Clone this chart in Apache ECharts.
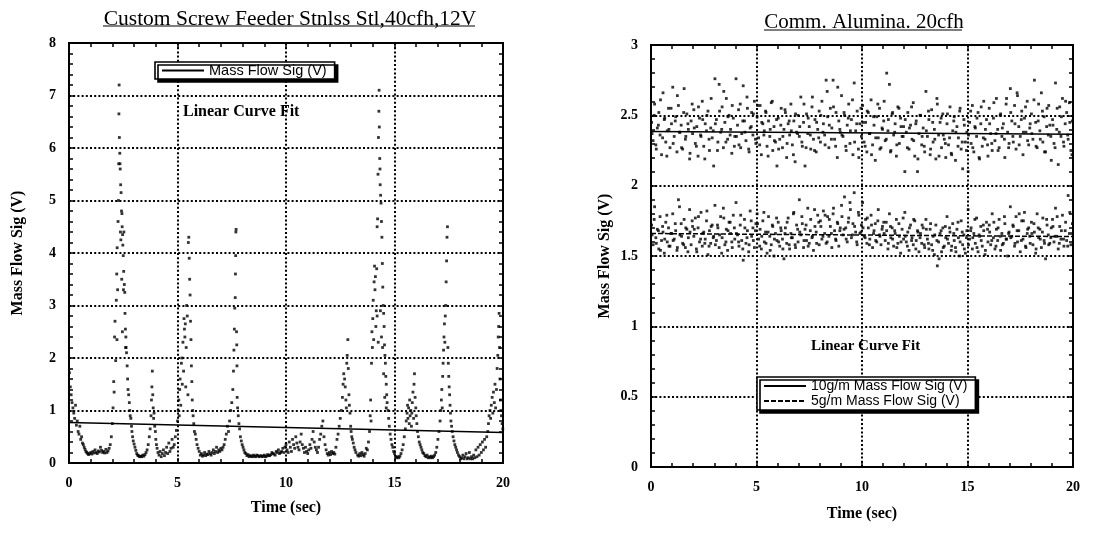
<!DOCTYPE html>
<html>
<head>
<meta charset="utf-8">
<script src="https://cdn.jsdelivr.net/npm/echarts@6/dist/echarts.min.js"></script>
<style>html,body{margin:0;padding:0;background:#fff}#c{width:1095px;height:543px}</style>
</head>
<body>
<div id="c"></div>
<script>
// ---------- DATA ----------
const leftTitle = 'Custom Screw Feeder Stnlss Stl,40cfh,12V';
const rightTitle = 'Comm. Alumina. 20cfh';
const xTicksLabel = [0, 5, 10, 15, 20];

// Left panel: [time (s), Mass Flow Sig (V)]
const leftSamples = [
[0.02,1.72],[0.06,1.45],[0.1,1.3],[0.14,1.15],[0.18,1.05],[0.22,0.95],[0.26,0.85],[0.3,1.1],[0.34,0.72],[0.38,0.8],[0.42,0.6],[0.46,0.55],[0.5,0.7],[0.54,0.45],[0.58,0.5],[0.62,0.38],[0.66,0.35],[0.7,0.3],[0.74,0.26],[0.78,0.22],[0.82,0.2],[0.86,0.18],[0.9,0.16],
[0.95,0.18],[1.0,0.2],[1.05,0.17],[1.1,0.22],[1.15,0.19],[1.2,0.25],[1.25,0.2],[1.3,0.18],[1.35,0.23],[1.4,0.21],[1.45,0.3],[1.5,0.24],[1.55,0.2],[1.6,0.22],[1.65,0.19],[1.7,0.26],[1.75,0.2],[1.8,0.23],[1.85,0.28],[1.9,0.35],[1.95,0.5],
[2.0,0.75],[2.03,1.05],[2.06,1.55],[2.08,1.35],[2.1,2.4],[2.12,2.7],[2.15,1.95],[2.18,3.1],[2.2,3.6],[2.21,2.35],[2.22,4.1],[2.24,3.3],[2.26,4.6],[2.28,5.0],[2.29,5.7],[2.3,6.65],[2.31,7.2],[2.32,6.2],[2.34,5.9],[2.35,5.7],[2.36,5.6],[2.37,4.4],[2.38,5.3],[2.39,4.25],[2.4,5.15],[2.42,4.8],[2.43,3.5],[2.44,4.75],[2.45,4.5],[2.46,2.5],[2.47,4.35],[2.48,4.15],[2.5,3.95],[2.51,3.3],[2.52,3.65],[2.53,4.4],[2.55,3.4],[2.57,3.25],[2.58,2.85],[2.6,2.55],[2.61,2.2],[2.62,2.4],[2.63,2.2],[2.65,2.1],[2.68,1.85],[2.7,1.6],[2.72,1.4],[2.75,1.3],[2.78,1.15],[2.8,1.0],[2.82,0.9],[2.85,0.85],[2.88,0.7],[2.9,0.6],[2.93,0.5],[2.96,0.42],[3.0,0.36],[3.04,0.3],[3.08,0.24],[3.12,0.18],[3.16,0.15],
[3.2,0.14],[3.25,0.12],[3.3,0.13],[3.35,0.12],[3.4,0.15],[3.45,0.13],[3.5,0.16],[3.55,0.2],[3.6,0.25],[3.65,0.35],[3.7,0.5],
[3.74,0.65],[3.78,0.9],[3.8,1.2],[3.82,1.45],[3.84,1.75],[3.86,1.3],[3.88,1.05],[3.9,0.85],[3.92,0.95],[3.95,0.7],[3.98,0.6],[4.0,0.45],[4.03,0.35],[4.06,0.28],[4.1,0.2],
[4.15,0.15],[4.2,0.22],[4.25,0.12],[4.3,0.18],[4.35,0.25],[4.4,0.14],[4.45,0.2],[4.5,0.3],[4.55,0.18],[4.6,0.38],[4.65,0.22],[4.7,0.28],[4.75,0.45],[4.8,0.3],[4.85,0.35],[4.9,0.5],[4.95,0.62],
[5.0,0.8],[5.03,1.0],[5.06,1.2],[5.08,0.9],[5.1,1.4],[5.12,1.6],[5.15,1.1],[5.18,1.9],[5.2,2.0],[5.22,1.5],[5.25,2.3],[5.28,1.75],[5.3,2.75],[5.32,2.55],[5.34,2.4],[5.36,2.65],[5.38,1.45],[5.4,2.2],[5.42,3.0],[5.45,2.8],[5.48,1.3],[5.5,4.2],[5.52,4.3],[5.54,3.9],[5.56,3.5],[5.58,3.2],[5.6,2.7],[5.62,2.35],[5.64,1.85],[5.66,1.55],[5.68,1.2],[5.7,1.0],[5.72,0.9],[5.75,0.75],[5.78,0.6],[5.82,0.55],[5.86,0.45],[5.9,0.35],[5.95,0.28],[6.0,0.22],
[6.05,0.15],[6.1,0.18],[6.15,0.13],[6.2,0.15],[6.25,0.2],[6.3,0.14],[6.35,0.17],[6.4,0.16],[6.45,0.22],[6.5,0.18],[6.55,0.15],[6.6,0.2],[6.65,0.25],[6.7,0.18],[6.75,0.22],[6.8,0.3],[6.85,0.2],[6.9,0.25],[6.95,0.22],[7.0,0.28],[7.05,0.25],[7.1,0.3],[7.15,0.35],[7.2,0.45],[7.25,0.55],[7.3,0.7],[7.35,0.6],
[7.4,0.8],[7.45,1.0],[7.5,1.15],[7.55,1.4],[7.58,1.75],[7.6,2.15],[7.62,2.55],[7.64,2.95],[7.66,3.15],[7.67,3.6],[7.68,3.95],[7.69,4.4],[7.7,4.45],[7.72,2.5],[7.73,2.25],[7.74,1.85],[7.75,1.25],[7.77,1.05],[7.8,0.9],[7.83,0.75],[7.86,0.65],[7.9,0.5],[7.94,0.42],[7.98,0.35],[8.02,0.3],[8.06,0.25],[8.1,0.2],[8.15,0.18],
[8.2,0.14],[8.25,0.16],[8.3,0.12],[8.35,0.14],[8.4,0.13],[8.45,0.12],[8.5,0.15],[8.55,0.13],[8.6,0.12],[8.65,0.15],[8.7,0.14],[8.75,0.12],[8.8,0.13],[8.85,0.14],[8.9,0.12],[8.95,0.13],[9.0,0.15],[9.05,0.12],[9.1,0.13],[9.15,0.16],[9.2,0.14],[9.25,0.14],[9.3,0.16],[9.35,0.2],[9.4,0.18],[9.45,0.17],[9.5,0.15],[9.55,0.22],[9.6,0.2],[9.65,0.25],[9.7,0.18],[9.75,0.2],[9.8,0.22],[9.85,0.28],[9.9,0.2],[9.95,0.3],
[10.0,0.35],[10.05,0.25],[10.1,0.2],[10.15,0.4],[10.2,0.3],[10.25,0.22],[10.3,0.45],[10.35,0.35],[10.4,0.28],[10.45,0.5],[10.5,0.38],[10.55,0.3],[10.6,0.25],[10.65,0.4],[10.7,0.55],[10.75,0.35],[10.8,0.28],[10.85,0.2],[10.9,0.3],[10.95,0.22],[11.0,0.18],[11.05,0.25],[11.1,0.35],[11.15,0.28],[11.2,0.45],[11.25,0.6],[11.3,0.4],[11.35,0.3],[11.4,0.25],[11.45,0.2],[11.5,0.3],[11.55,0.45],[11.6,0.55],[11.65,0.7],[11.7,0.8],[11.75,0.5],[11.8,0.35],[11.85,0.25],[11.9,0.18],[11.95,0.15],[12.0,0.2],[12.05,0.16],[12.1,0.22],[12.15,0.18],[12.2,0.2],[12.25,0.17],[12.3,0.3],[12.35,0.45],[12.4,0.55],[12.45,0.7],
[12.5,0.85],[12.55,1.0],[12.6,1.25],[12.63,1.5],[12.66,1.7],[12.7,1.6],[12.73,1.45],[12.76,1.2],[12.78,1.05],[12.8,1.9],[12.82,2.05],[12.85,2.35],[12.87,1.8],[12.9,1.3],[12.92,1.1],[12.95,0.95],[12.98,0.7],[13.0,0.6],[13.03,0.5],[13.06,0.45],[13.1,0.38],[13.14,0.3],[13.18,0.25],[13.22,0.2],
[13.3,0.15],[13.35,0.13],[13.4,0.18],[13.45,0.14],[13.5,0.2],[13.55,0.16],[13.6,0.13],[13.65,0.18],[13.7,0.28],[13.75,0.25],[13.8,0.4],
[13.85,0.6],[13.88,0.9],[13.9,1.2],[13.92,0.8],[13.94,1.9],[13.96,2.5],[13.98,2.2],[14.0,2.75],[14.02,3.1],[14.04,2.35],[14.06,3.45],[14.08,3.75],[14.1,3.3],[14.12,3.55],[14.14,2.6],[14.16,2.9],[14.18,3.7],[14.2,4.5],[14.2,2.8],[14.22,4.65],[14.24,5.5],[14.25,2.3],[14.26,6.2],[14.28,6.7],[14.29,7.1],[14.3,6.4],[14.32,5.8],[14.33,5.6],[14.34,5.3],[14.35,2.9],[14.36,5.1],[14.38,4.95],[14.4,4.6],[14.4,2.4],[14.42,4.3],[14.44,3.8],[14.45,2.2],[14.46,3.35],[14.48,3.0],[14.5,2.85],[14.5,1.7],[14.52,2.6],[14.54,2.25],[14.55,1.25],[14.56,2.05],[14.58,1.9],[14.6,1.65],[14.62,1.5],[14.62,1.05],[14.64,1.3],[14.66,1.15],[14.7,1.0],[14.73,0.85],[14.76,0.7],[14.8,0.55],[14.84,0.45],[14.88,0.35],[14.92,0.3],[14.96,0.22],
[15.0,0.18],[15.05,0.12],[15.1,0.1],[15.15,0.12],[15.2,0.1],[15.25,0.13],[15.3,0.18],[15.35,0.25],[15.4,0.35],[15.45,0.5],
[15.5,0.65],[15.54,0.8],[15.58,0.95],[15.6,1.1],[15.62,0.85],[15.65,1.05],[15.68,0.75],[15.7,1.2],[15.72,0.9],[15.75,1.0],[15.78,0.7],[15.8,0.95],[15.82,1.15],[15.85,1.35],[15.88,0.85],[15.9,1.5],[15.92,1.7],[15.95,1.25],[15.98,1.05],[16.0,0.9],[16.03,0.75],[16.06,0.6],[16.1,0.5],[16.14,0.4],[16.18,0.35],[16.22,0.3],[16.26,0.25],[16.3,0.2],
[16.35,0.18],[16.4,0.14],[16.45,0.12],[16.5,0.15],[16.55,0.1],[16.6,0.12],[16.65,0.1],[16.7,0.13],[16.75,0.1],[16.8,0.12],[16.85,0.15],[16.9,0.2],[16.95,0.3],[17.0,0.45],[17.05,0.6],
[17.1,0.8],[17.13,1.0],[17.16,1.2],[17.18,1.4],[17.2,1.05],[17.22,1.65],[17.24,1.9],[17.26,2.15],[17.28,2.4],[17.3,2.65],[17.32,2.3],[17.34,2.8],[17.36,3.0],[17.38,3.45],[17.4,3.85],[17.42,4.3],[17.44,4.5],[17.46,2.2],[17.48,1.9],[17.5,1.65],[17.52,1.45],[17.54,1.3],[17.56,1.1],[17.58,0.95],[17.6,0.8],[17.63,0.7],[17.66,0.6],[17.7,0.5],[17.74,0.42],[17.78,0.35],
[17.82,0.3],[17.86,0.25],[17.9,0.2],[17.95,0.15],[18.0,0.12],[18.05,0.08],[18.1,0.1],[18.15,0.15],[18.2,0.08],[18.25,0.12],[18.3,0.18],[18.35,0.08],[18.4,0.1],[18.45,0.2],[18.5,0.08],[18.55,0.12],[18.6,0.08],[18.65,0.15],[18.7,0.1],[18.75,0.25],[18.8,0.12],[18.85,0.3],[18.9,0.15],[18.95,0.35],[19.0,0.2],[19.05,0.4],[19.1,0.25],[19.15,0.45],[19.2,0.3],[19.25,0.5],
[19.3,0.6],[19.33,0.75],[19.36,0.9],[19.4,1.0],[19.43,0.85],[19.46,1.1],[19.5,1.25],[19.53,0.95],[19.56,1.35],[19.6,1.15],[19.63,1.5],[19.66,1.05],[19.7,1.4],[19.73,1.8],[19.76,2.05],[19.78,2.4],[19.8,2.6],[19.82,2.85],[19.84,2.2],[19.86,1.6],[19.88,1.2],[19.9,1.0],[19.93,0.9],[19.96,0.75],[19.99,0.65]
];
const leftFitTime = [0, 20];
const leftFitSig = [0.77, 0.58];

// Right panel: sample times (s), set A
const rightTime = [
0.03,0.10,0.17,0.23,0.30,0.37,0.43,0.50,0.57,0.63,0.70,0.77,0.83,0.90,0.97,
1.03,1.10,1.17,1.23,1.30,1.37,1.43,1.50,1.57,1.63,1.70,1.77,1.83,1.90,1.97,
2.03,2.10,2.17,2.23,2.30,2.37,2.43,2.50,2.57,2.63,2.70,2.77,2.83,2.90,2.97,
3.03,3.10,3.17,3.23,3.30,3.37,3.43,3.50,3.57,3.63,3.70,3.77,3.83,3.90,3.97,
4.03,4.10,4.17,4.23,4.30,4.37,4.43,4.50,4.57,4.63,4.70,4.77,4.83,4.90,4.97,
5.03,5.10,5.17,5.23,5.30,5.37,5.43,5.50,5.57,5.63,5.70,5.77,5.83,5.90,5.97,
6.03,6.10,6.17,6.23,6.30,6.37,6.43,6.50,6.57,6.63,6.70,6.77,6.83,6.90,6.97,
7.03,7.10,7.17,7.23,7.30,7.37,7.43,7.50,7.57,7.63,7.70,7.77,7.83,7.90,7.97,
8.03,8.10,8.17,8.23,8.30,8.37,8.43,8.50,8.57,8.63,8.70,8.77,8.83,8.90,8.97,
9.03,9.10,9.17,9.23,9.30,9.37,9.43,9.50,9.57,9.63,9.70,9.77,9.83,9.90,9.97,
10.03,10.10,10.17,10.23,10.30,10.37,10.43,10.50,10.57,10.63,10.70,10.77,10.83,10.90,10.97,
11.03,11.10,11.17,11.23,11.30,11.37,11.43,11.50,11.57,11.63,11.70,11.77,11.83,11.90,11.97,
12.03,12.10,12.17,12.23,12.30,12.37,12.43,12.50,12.57,12.63,12.70,12.77,12.83,12.90,12.97,
13.03,13.10,13.17,13.23,13.30,13.37,13.43,13.50,13.57,13.63,13.70,13.77,13.83,13.90,13.97,
14.03,14.10,14.17,14.23,14.30,14.37,14.43,14.50,14.57,14.63,14.70,14.77,14.83,14.90,14.97,
15.03,15.10,15.17,15.23,15.30,15.37,15.43,15.50,15.57,15.63,15.70,15.77,15.83,15.90,15.97,
16.03,16.10,16.17,16.23,16.30,16.37,16.43,16.50,16.57,16.63,16.70,16.77,16.83,16.90,16.97,
17.03,17.10,17.17,17.23,17.30,17.37,17.43,17.50,17.57,17.63,17.70,17.77,17.83,17.90,17.97,
18.03,18.10,18.17,18.23,18.30,18.37,18.43,18.50,18.57,18.63,18.70,18.77,18.83,18.90,18.97,
19.03,19.10,19.17,19.23,19.30,19.37,19.43,19.50,19.57,19.63,19.70,19.77,19.83,19.90,19.97
];
// 10g/m Mass Flow Sig (V), set A
const sig10 = [
2.45,2.32,2.58,2.29,2.41,2.52,2.36,2.22,2.66,2.47,2.31,2.39,2.55,2.27,2.44,
2.70,2.35,2.49,2.24,2.57,2.38,2.43,2.26,2.69,2.33,2.51,2.40,2.19,2.46,2.37,
2.54,2.30,2.42,2.21,2.48,2.35,2.60,2.28,2.44,2.39,2.53,2.25,2.41,2.34,2.14,
2.76,2.47,2.31,2.72,2.38,2.56,2.27,2.45,2.62,2.33,2.50,2.40,2.23,2.48,2.35,
2.76,2.43,2.29,2.58,2.37,2.71,2.46,2.32,2.55,2.26,2.41,2.52,2.36,2.60,2.30,
2.49,2.34,2.57,2.22,2.44,2.39,2.53,2.28,2.46,2.35,2.59,2.25,2.42,2.31,2.14,
2.48,2.33,2.55,2.27,2.40,2.52,2.20,2.44,2.36,2.58,2.29,2.46,2.17,2.38,2.50,
2.35,2.63,2.28,2.45,2.14,2.51,2.37,2.42,2.26,2.56,2.33,2.47,2.24,2.40,2.53,
2.31,2.60,2.44,2.36,2.75,2.49,2.27,2.55,2.41,2.75,2.33,2.52,2.20,2.46,2.38,
2.64,2.35,2.50,2.28,2.43,2.58,2.30,2.47,2.22,2.73,2.39,2.53,2.26,2.44,2.35,
2.57,2.31,2.45,2.24,2.52,2.37,2.61,2.29,2.43,2.18,2.49,2.34,2.55,2.27,2.40,
2.46,2.32,2.80,2.39,2.72,2.25,2.51,2.36,2.44,2.21,2.56,2.30,2.48,2.35,2.42,
2.10,2.38,2.52,2.26,2.43,2.33,2.59,2.21,2.46,2.10,2.37,2.50,2.29,2.41,2.24,
2.67,2.35,2.47,2.22,2.54,2.31,2.40,2.19,2.58,2.36,2.45,2.27,2.51,2.33,2.20,
2.44,2.29,2.56,2.23,2.39,2.49,2.18,2.42,2.34,2.53,2.26,2.12,2.47,2.31,2.38,
2.10,2.45,2.30,2.57,2.24,2.41,2.35,2.52,2.19,2.44,2.28,2.60,2.33,2.47,2.21,
2.55,2.37,2.25,2.48,2.32,2.62,2.40,2.27,2.51,2.35,2.44,2.20,2.58,2.38,2.30,
2.69,2.46,2.31,2.57,2.26,2.64,2.42,2.35,2.53,2.22,2.48,2.38,2.60,2.29,2.44,
2.51,2.33,2.75,2.45,2.27,2.58,2.39,2.66,2.31,2.49,2.24,2.55,2.36,2.43,2.18,
2.47,2.30,2.73,2.40,2.15,2.56,2.35,2.62,2.28,2.44,2.52,2.33,2.59,2.25,2.46
];
// 5g/m Mass Flow Sig (V), set A
const sig5 = [
1.72,1.58,1.85,1.63,1.69,1.55,1.78,1.61,1.67,1.52,1.74,1.60,1.70,1.57,1.66,
1.80,1.62,1.68,1.54,1.90,1.65,1.73,1.59,1.76,1.56,1.69,1.63,1.83,1.58,1.71,
1.64,1.77,1.53,1.70,1.60,1.81,1.57,1.67,1.62,1.75,1.51,1.68,1.59,1.72,1.64,
1.86,1.61,1.70,1.56,1.78,1.63,1.84,1.58,1.69,1.54,1.74,1.66,1.60,1.79,1.62,
1.88,1.65,1.57,1.72,1.61,1.47,1.76,1.59,1.68,1.53,1.82,1.64,1.70,1.56,1.73,
1.80,1.62,1.69,1.55,1.75,1.60,1.67,1.52,1.78,1.64,1.58,1.71,1.50,1.66,1.61,
1.74,1.57,1.68,1.62,1.48,1.70,1.59,1.77,1.55,1.66,1.63,1.81,1.58,1.72,1.60,
1.90,1.65,1.73,1.56,1.69,1.61,1.84,1.59,1.76,1.63,1.54,1.71,1.67,1.79,1.58,
1.75,1.62,1.82,1.66,1.59,1.78,1.64,1.71,1.56,1.80,1.68,1.61,1.74,1.57,1.70,
1.86,1.65,1.92,1.70,1.60,1.77,1.88,1.63,1.73,1.95,1.67,1.58,1.81,1.66,1.72,
1.88,1.64,1.76,1.59,1.70,1.62,1.79,1.56,1.68,1.73,1.60,1.83,1.65,1.58,1.71,
1.74,1.61,1.68,1.55,1.80,1.63,1.70,1.57,1.66,1.76,1.59,1.64,1.52,1.69,1.62,
1.81,1.60,1.67,1.54,1.72,1.63,1.58,1.75,1.61,1.68,1.53,1.66,1.59,1.70,1.56,
1.76,1.62,1.55,1.69,1.58,1.64,1.51,1.72,1.43,1.60,1.66,1.53,1.70,1.57,1.63,
1.78,1.59,1.67,1.54,1.73,1.61,1.56,1.69,1.63,1.50,1.75,1.58,1.65,1.52,1.68,
1.83,1.62,1.70,1.55,1.66,1.59,1.77,1.53,1.64,1.71,1.57,1.68,1.51,1.74,1.60,
1.72,1.58,1.80,1.63,1.55,1.69,1.61,1.76,1.54,1.66,1.59,1.73,1.62,1.50,1.67,
1.85,1.64,1.71,1.57,1.78,1.60,1.68,1.53,1.75,1.62,1.81,1.56,1.66,1.70,1.59,
1.74,1.58,1.67,1.52,1.80,1.63,1.69,1.56,1.77,1.61,1.48,1.72,1.65,1.59,1.70,
1.76,1.60,1.84,1.64,1.55,1.71,1.62,1.79,1.57,1.68,1.61,1.93,1.66,1.58,1.73
];
// Right panel: sample times (s), set B
const rightTimeB = [
0.05,0.15,0.25,0.35,0.45,0.55,0.65,0.75,0.85,0.95,
1.05,1.15,1.25,1.35,1.45,1.55,1.65,1.75,1.85,1.95,
2.05,2.15,2.25,2.35,2.45,2.55,2.65,2.75,2.85,2.95,
3.05,3.15,3.25,3.35,3.45,3.55,3.65,3.75,3.85,3.95,
4.05,4.15,4.25,4.35,4.45,4.55,4.65,4.75,4.85,4.95,
5.05,5.15,5.25,5.35,5.45,5.55,5.65,5.75,5.85,5.95,
6.05,6.15,6.25,6.35,6.45,6.55,6.65,6.75,6.85,6.95,
7.05,7.15,7.25,7.35,7.45,7.55,7.65,7.75,7.85,7.95,
8.05,8.15,8.25,8.35,8.45,8.55,8.65,8.75,8.85,8.95,
9.05,9.15,9.25,9.35,9.45,9.55,9.65,9.75,9.85,9.95,
10.05,10.15,10.25,10.35,10.45,10.55,10.65,10.75,10.85,10.95,
11.05,11.15,11.25,11.35,11.45,11.55,11.65,11.75,11.85,11.95,
12.05,12.15,12.25,12.35,12.45,12.55,12.65,12.75,12.85,12.95,
13.05,13.15,13.25,13.35,13.45,13.55,13.65,13.75,13.85,13.95,
14.05,14.15,14.25,14.35,14.45,14.55,14.65,14.75,14.85,14.95,
15.05,15.15,15.25,15.35,15.45,15.55,15.65,15.75,15.85,15.95,
16.05,16.15,16.25,16.35,16.45,16.55,16.65,16.75,16.85,16.95,
17.05,17.15,17.25,17.35,17.45,17.55,17.65,17.75,17.85,17.95,
18.05,18.15,18.25,18.35,18.45,18.55,18.65,18.75,18.85,18.95,
19.05,19.15,19.25,19.35,19.45,19.55,19.65,19.75,19.85,19.95
];
// 10g/m Mass Flow Sig (V), set B
const sig10B = [
2.37,2.50,2.26,2.43,2.61,2.34,2.48,2.21,2.40,2.55,
2.30,2.46,2.64,2.38,2.27,2.52,2.35,2.44,2.23,2.58,
2.41,2.28,2.56,2.36,2.47,2.19,2.50,2.33,2.62,2.39,
2.44,2.25,2.53,2.40,2.67,2.31,2.49,2.36,2.57,2.28,
2.35,2.54,2.27,2.46,2.38,2.63,2.24,2.42,2.51,2.33,
2.57,2.29,2.45,2.36,2.52,2.21,2.40,2.60,2.32,2.47,
2.26,2.43,2.35,2.54,2.30,2.46,2.39,2.22,2.51,2.37,
2.42,2.31,2.58,2.27,2.48,2.36,2.63,2.25,2.45,2.34,
2.50,2.38,2.29,2.67,2.43,2.33,2.56,2.28,2.70,2.40,
2.36,2.52,2.25,2.48,2.39,2.61,2.31,2.44,2.20,2.55,
2.45,2.28,2.53,2.37,2.22,2.49,2.34,2.58,2.26,2.41,
2.60,2.33,2.47,2.24,2.52,2.38,2.29,2.55,2.42,2.35,
2.47,2.27,2.41,2.56,2.32,2.44,2.19,2.50,2.35,2.28,
2.39,2.53,2.26,2.45,2.33,2.62,2.21,2.48,2.36,2.30,
2.51,2.34,2.22,2.46,2.38,2.28,2.55,2.31,2.43,2.25,
2.36,2.53,2.27,2.42,2.48,2.20,2.56,2.34,2.40,2.29,
2.44,2.30,2.59,2.37,2.25,2.50,2.41,2.33,2.62,2.27,
2.52,2.35,2.44,2.66,2.29,2.47,2.38,2.56,2.32,2.41,
2.37,2.61,2.28,2.46,2.33,2.53,2.24,2.42,2.57,2.35,
2.43,2.27,2.55,2.38,2.49,2.31,2.60,2.36,2.45,2.22
];
// 5g/m Mass Flow Sig (V), set B
const sig5B = [
1.65,1.76,1.59,1.68,1.54,1.71,1.62,1.79,1.57,1.66,
1.61,1.73,1.56,1.85,1.64,1.58,1.70,1.53,1.67,1.75,
1.69,1.55,1.78,1.62,1.66,1.59,1.82,1.57,1.71,1.63,
1.58,1.72,1.65,1.52,1.77,1.60,1.68,1.74,1.56,1.70,
1.66,1.60,1.79,1.55,1.70,1.63,1.58,1.75,1.61,1.68,
1.73,1.57,1.64,1.81,1.59,1.67,1.54,1.72,1.62,1.77,
1.60,1.70,1.55,1.66,1.74,1.58,1.63,1.80,1.56,1.69,
1.67,1.78,1.61,1.72,1.57,1.68,1.64,1.83,1.59,1.74,
1.71,1.64,1.79,1.60,1.76,1.66,1.84,1.62,1.73,1.68,
1.78,1.69,1.62,1.74,1.83,1.65,1.71,1.60,1.79,1.67,
1.70,1.63,1.77,1.58,1.72,1.66,1.61,1.75,1.64,1.69,
1.66,1.74,1.59,1.71,1.62,1.68,1.56,1.73,1.60,1.77,
1.64,1.57,1.70,1.61,1.76,1.55,1.67,1.63,1.72,1.58,
1.69,1.59,1.73,1.54,1.65,1.61,1.48,1.68,1.56,1.71,
1.62,1.70,1.57,1.66,1.53,1.74,1.60,1.67,1.55,1.63,
1.58,1.68,1.63,1.76,1.56,1.65,1.61,1.72,1.54,1.69,
1.67,1.61,1.74,1.57,1.70,1.64,1.58,1.78,1.62,1.66,
1.63,1.72,1.59,1.68,1.80,1.61,1.75,1.57,1.69,1.64,
1.66,1.73,1.55,1.70,1.62,1.67,1.59,1.76,1.58,1.63,
1.71,1.64,1.78,1.59,1.68,1.62,1.74,1.57,1.81,1.66
];
const rightFitTime = [0, 20];
const fit10 = [2.385, 2.366];
const fit5 = [1.66, 1.638];

// ---------- CHART ----------
const SERIF = '"Liberation Serif", "DejaVu Serif", serif';
const SANS = '"Liberation Sans", Arial, sans-serif';
const chart = echarts.init(document.getElementById('c'), null, {renderer: 'canvas'});

const grids = [
  {left: 69, top: 43, width: 434, height: 420},
  {left: 651, top: 45, width: 422, height: 422}
];
const splitDotted = {show: true, lineStyle: {color: '#000', width: 2, type: [2, 2.2]}};
const tickStyle = {show: true, inside: true, length: 5, lineStyle: {color: '#000', width: 1.5}};
const minorStyle = {show: true, splitNumber: 5, length: 4, lineStyle: {color: '#000', width: 1.5}};
const axisNameStyle = {fontFamily: SERIF, fontWeight: 'bold', fontSize: 16, color: '#000'};
const tickLabelStyle = {fontFamily: SERIF, fontWeight: 'bold', fontSize: 14, color: '#000'};

function mainX(gi, gap) {
  return {
    type: 'value', gridIndex: gi, min: 0, max: 20, interval: 5, position: 'bottom',
    name: 'Time (sec)', nameLocation: 'middle', nameGap: gap, nameTextStyle: axisNameStyle,
    axisLine: {show: true, onZero: false, lineStyle: {color: '#000', width: 2}},
    axisTick: tickStyle, minorTick: minorStyle,
    axisLabel: Object.assign({margin: 13, formatter: v => xTicksLabel.includes(v) ? String(v) : ''}, tickLabelStyle),
    splitLine: splitDotted
  };
}
function mirrorX(gi) {
  return {
    type: 'value', gridIndex: gi, min: 0, max: 20, interval: 5, position: 'top',
    axisLine: {show: true, onZero: false, lineStyle: {color: '#000', width: 2}},
    axisTick: tickStyle, minorTick: minorStyle,
    axisLabel: {show: false}, splitLine: {show: false}
  };
}
function mainY(gi, max, interval, gap) {
  return {
    type: 'value', gridIndex: gi, min: 0, max: max, interval: interval, position: 'left',
    name: 'Mass Flow Sig (V)', nameLocation: 'middle', nameGap: gap, nameTextStyle: axisNameStyle,
    axisLine: {show: true, onZero: false, lineStyle: {color: '#000', width: 2}},
    axisTick: tickStyle, minorTick: minorStyle,
    axisLabel: Object.assign({margin: 13}, tickLabelStyle),
    splitLine: splitDotted
  };
}
function mirrorY(gi, max, interval) {
  return {
    type: 'value', gridIndex: gi, min: 0, max: max, interval: interval, position: 'right',
    axisLine: {show: true, onZero: false, lineStyle: {color: '#000', width: 2}},
    axisTick: tickStyle, minorTick: minorStyle,
    axisLabel: {show: false}, splitLine: {show: false}
  };
}

const leftScatter = leftSamples.map(p => [p[0], p[1]]);
const leftFit = leftFitTime.map((t, i) => [t, leftFitSig[i]]);
const r10 = rightTime.map((t, i) => [t, sig10[i]]).concat(rightTimeB.map((t, i) => [t, sig10B[i]]));
const r5 = rightTime.map((t, i) => [t, sig5[i]]).concat(rightTimeB.map((t, i) => [t, sig5B[i]]));
const f10 = rightFitTime.map((t, i) => [t, fit10[i]]);
const f5 = rightFitTime.map((t, i) => [t, fit5[i]]);

const dot = {symbol: 'rect', symbolSize: 2.8, itemStyle: {color: '#000'}};
const legendBase = {
  backgroundColor: '#fff', borderColor: '#000', borderWidth: 1.6, borderRadius: 0,
  shadowColor: '#000', shadowBlur: 0.01, shadowOffsetX: 3, shadowOffsetY: 3,
  itemWidth: 42, itemHeight: 10, selectedMode: false,
  itemStyle: {opacity: 0, borderWidth: 0},
  textStyle: {fontFamily: SANS, fontSize: 14, color: '#000'}
};

chart.setOption({
  animation: false,
  backgroundColor: '#fff',
  title: [
    {text: leftTitle, left: 285, top: 3, textAlign: 'center',
     textStyle: {fontFamily: SERIF, fontWeight: 'normal', fontSize: 21.5, color: '#000'}},
    {text: rightTitle, left: 859, top: 7, textAlign: 'center',
     textStyle: {fontFamily: SERIF, fontWeight: 'normal', fontSize: 21, color: '#000'}}
  ],
  grid: grids.map(g => Object.assign({show: true, borderColor: '#000', borderWidth: 2, containLabel: false}, g)),
  xAxis: [mainX(0, 37), mirrorX(0), mainX(1, 39), mirrorX(1)],
  yAxis: [mainY(0, 8, 1, 43), mirrorY(0, 8, 1), mainY(1, 3, 0.5, 38), mirrorY(1, 3, 0.5)],
  legend: [
    Object.assign({}, legendBase, {left: 155, top: 62, padding: [1, 8, 1, 6],
      textStyle: {fontFamily: SANS, fontSize: 14.5, color: '#000'},
      data: ['Mass Flow Sig (V)']}),
    Object.assign({}, legendBase, {left: 757, top: 377, orient: 'vertical', itemGap: 1, padding: [2, 8, 2, 6],
      data: ['10g/m Mass Flow Sig (V)', '5g/m Mass Flow Sig (V)']})
  ],
  graphic: [
    {type: 'line', shape: {x1: 103, y1: 26, x2: 475, y2: 26}, style: {stroke: '#000', lineWidth: 1.2}},
    {type: 'line', shape: {x1: 764, y1: 30, x2: 962, y2: 30}, style: {stroke: '#000', lineWidth: 1.2}},
    {type: 'text', left: 183, top: 104, style: {text: 'Linear Curve Fit', font: 'bold 16px ' + SERIF, fill: '#000'}},
    {type: 'text', left: 811, top: 339, style: {text: 'Linear Curve Fit', font: 'bold 15px ' + SERIF, fill: '#000'}}
  ],
  series: [
    {name: 'Mass Flow Sig (V)', type: 'line', xAxisIndex: 0, yAxisIndex: 0, data: leftFit,
     symbol: 'none', lineStyle: {color: '#000', width: 1.5}, itemStyle: {color: '#000'}, z: 4},
    Object.assign({name: 'Mass Flow Sig (V) samples', type: 'scatter', xAxisIndex: 0, yAxisIndex: 0, data: leftScatter, z: 3}, dot),
    {name: '10g/m Mass Flow Sig (V)', type: 'line', xAxisIndex: 2, yAxisIndex: 2, data: f10,
     symbol: 'none', lineStyle: {color: '#000', width: 1.5}, itemStyle: {color: '#000'}, z: 4},
    {name: '5g/m Mass Flow Sig (V)', type: 'line', xAxisIndex: 2, yAxisIndex: 2, data: f5,
     symbol: 'none', lineStyle: {color: '#000', width: 1.5, type: [5, 2]}, itemStyle: {color: '#000'}, z: 4},
    Object.assign({name: '10g/m Mass Flow Sig (V) samples', type: 'scatter', xAxisIndex: 2, yAxisIndex: 2, data: r10, z: 3}, dot),
    Object.assign({name: '5g/m Mass Flow Sig (V) samples', type: 'scatter', xAxisIndex: 2, yAxisIndex: 2, data: r5, z: 3}, dot)
  ]
});
</script>
</body>
</html>
